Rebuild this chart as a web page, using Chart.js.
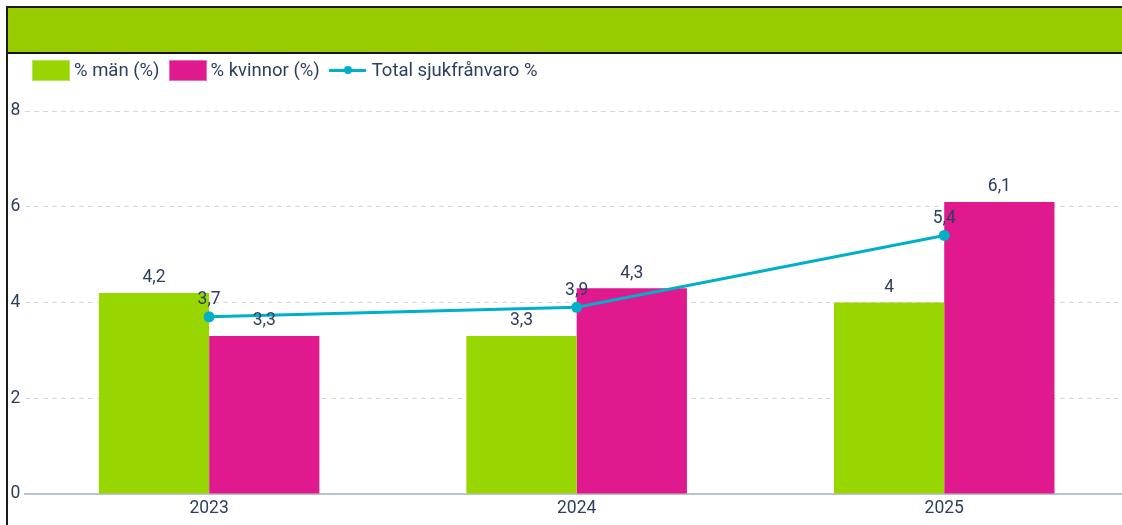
<!DOCTYPE html>
<html>
<head>
<meta charset="utf-8">
<script src="https://cdn.jsdelivr.net/npm/chart.js@4.4.1/dist/chart.umd.min.js"></script>
<style>
    html, body { margin: 0; padding: 0; background: #fff; overflow: hidden; }
    body { width: 1122px; height: 525px; position: relative; font-family: Roboto, sans-serif; }
    #frame {
        position: absolute; left: 6px; top: 6px; right: -10px; bottom: -10px;
        border-left: 2px solid #1c1c1c; border-top: 2px solid #1c1c1c;
    }
    #header {
        height: 44px; background: #99cc00; border-bottom: 2px solid #141414;
    }
    #legend {
        position: absolute; left: 32px; top: 59px; display: flex; align-items: center;
        font-size: 18.5px; color: #2c3f5e; height: 22px;
    }
    .lg-box { width: 38px; height: 21px; margin-right: 4px; box-sizing: border-box; }
    .lg-item { display: flex; align-items: center; margin-right: 9px; }
    .lg-line { width: 37px; height: 10px; margin-right: 6px; position: relative; }
    .lg-line:before { content: ''; position: absolute; left: 0; right: 0; top: 4px; height: 3px; background: #00afc8; }
    .lg-line:after { content: ''; position: absolute; left: 15px; top: 1px; width: 8px; height: 8px; border-radius: 50%; background: #00afc8; }
    #wrap { position: absolute; left: 0; top: 0; width: 1140px; height: 525px; }
</style>
</head>
<body>
<div id="frame"><div id="header"></div></div>
<div id="wrap"><canvas id="chart"></canvas></div>
<div id="legend">
    <div class="lg-item"><div class="lg-box" style="background:#97d600;border:1px solid #b6e35a"></div>% män (%)</div>
    <div class="lg-item"><div class="lg-box" style="background:#e0198f;border:1px solid #ee6ab8"></div>% kvinnor (%)</div>
    <div class="lg-item"><div class="lg-line"></div>Total sjukfrånvaro %</div>
</div>
<script>
const years = ['2023', '2024', '2025'];
const menValues = [4.2, 3.3, 4];
const womenValues = [3.3, 4.3, 6.1];
const totalValues = [3.7, 3.9, 5.4];
const yTicks = [0, 2, 4, 6, 8];

const textColor = '#2c3f5e';
const fmt = v => String(v).replace('.', ',');

// skriver värdena ovanför staplar och punkter
const valueLabels = {
    id: 'valueLabels',
    afterDatasetsDraw(chart) {
        const ctx = chart.ctx;
        ctx.save();
        ctx.font = '17.5px Roboto';
        ctx.fillStyle = textColor;
        ctx.textAlign = 'center';
        ctx.textBaseline = 'middle';
        chart.data.datasets.forEach((ds, i) => {
            const meta = chart.getDatasetMeta(i);
            const off = ds.type === 'line' ? 17 : 15;
            meta.data.forEach((el, j) => {
                ctx.fillText(fmt(ds.data[j]), el.x, el.y - off);
            });
        });
        ctx.restore();
    }
};

new Chart(document.getElementById('chart'), {
    type: 'bar',
    data: {
        labels: years,
        datasets: [
            {
                type: 'line',
                label: 'Total sjukfrånvaro %',
                data: totalValues,
                borderColor: '#00afc8',
                backgroundColor: '#00afc8',
                borderWidth: 3,
                pointRadius: 5.5,
                pointBorderWidth: 0,
                pointBackgroundColor: '#00afc8',
                order: 0
            },
            {
                label: '% män (%)',
                data: menValues,
                backgroundColor: '#97d600',
                order: 1
            },
            {
                label: '% kvinnor (%)',
                data: womenValues,
                backgroundColor: '#e0198f',
                order: 1
            }
        ]
    },
    options: {
        responsive: true,
        maintainAspectRatio: false,
        animation: false,
        layout: { padding: { top: 111, left: 5.5, right: 12, bottom: 2 } },
        datasets: { bar: { categoryPercentage: 0.6, barPercentage: 1.0 } },
        plugins: {
            legend: { display: false },
            tooltip: { enabled: false }
        },
        scales: {
            x: {
                grid: { display: false, drawTicks: false },
                border: { display: true, color: '#b7c3cd', width: 2 },
                ticks: { color: textColor, font: { family: 'Roboto', size: 17.5 }, padding: 4 }
            },
            y: {
                min: 0,
                max: 8,
                afterBuildTicks: axis => { axis.ticks = yTicks.map(v => ({ value: v })); },
                grid: { color: '#d3d8de', lineWidth: 1, drawTicks: false },
                border: { display: false, dash: [5, 4] },
                ticks: { color: textColor, font: { family: 'Roboto', size: 17.5 }, padding: 5 }
            }
        }
    },
    plugins: [valueLabels]
});
</script>
</body>
</html>
